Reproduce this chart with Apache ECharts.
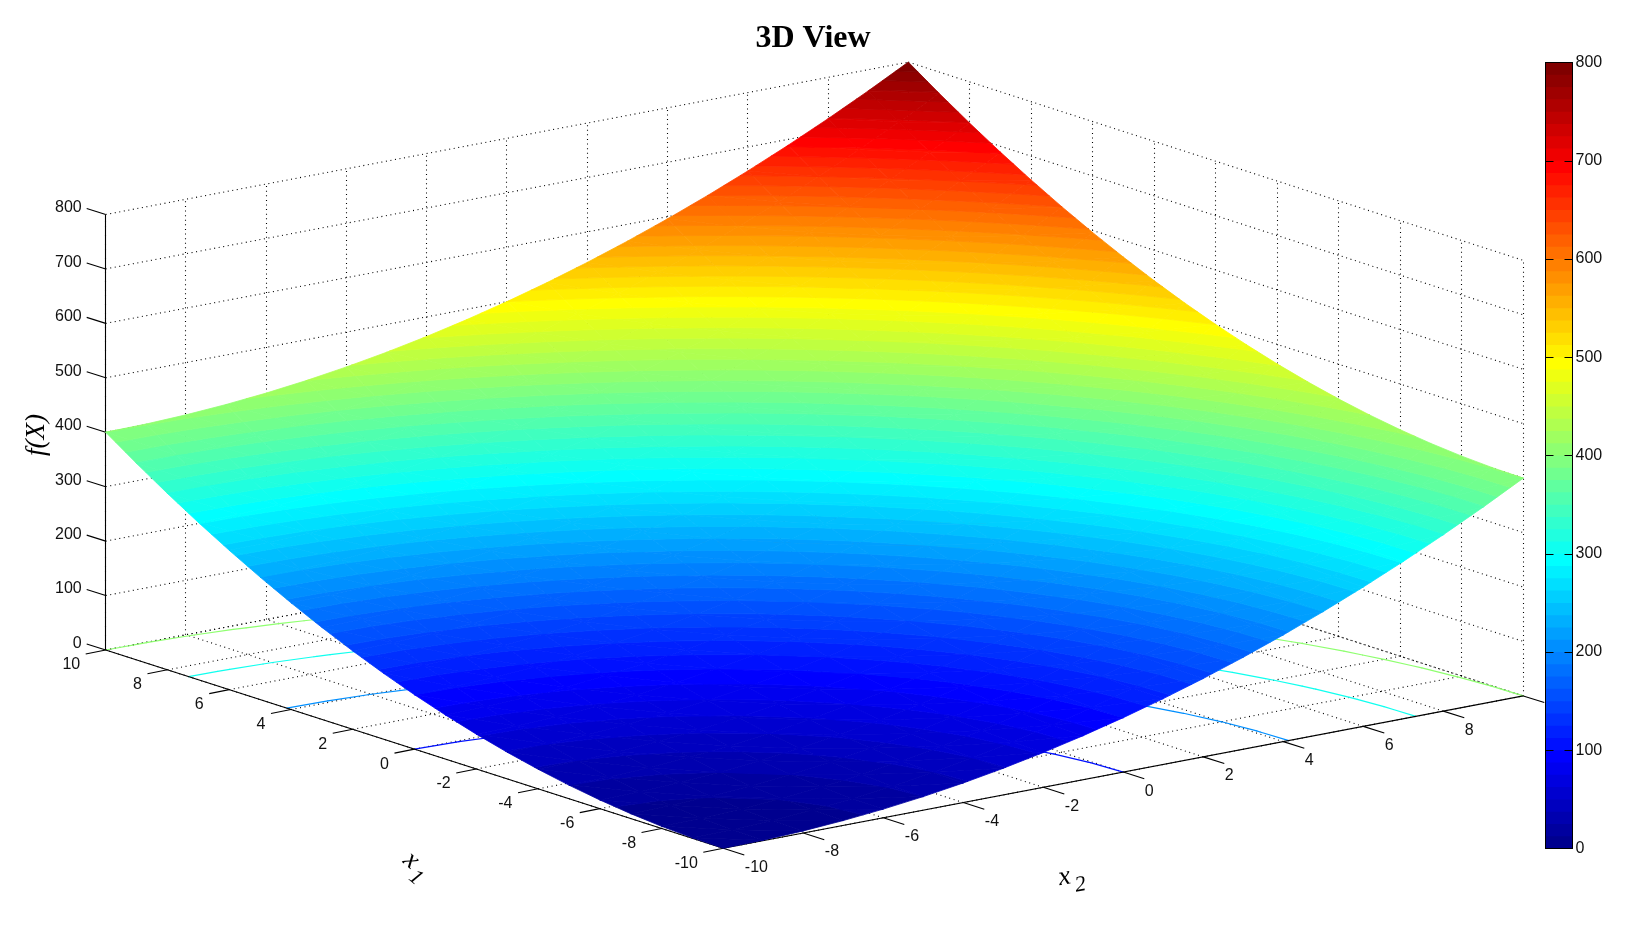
<!DOCTYPE html>
<html>
<head>
<meta charset="utf-8">
<style>html,body{margin:0;padding:0;background:#fff}#c{width:1632px;height:945px}</style>
<script src="https://cdn.jsdelivr.net/npm/echarts@6/dist/echarts.min.js"></script>
</head>
<body>
<div id="c"></div>
<script>
// ---- values ----
var x1Values = [-10,-9,-8,-7,-6,-5,-4,-3,-2,-1,0,1,2,3,4,5,6,7,8,9,10];
var x2Values = [-10,-9,-8,-7,-6,-5,-4,-3,-2,-1,0,1,2,3,4,5,6,7,8,9,10];
// surface height f(X): one row per x1, one column per x2
var fRows = [
[0,1,4,9,16,25,36,49,64,81,100,121,144,169,196,225,256,289,324,361,400],
[1,2,5,10,17,26,37,50,65,82,101,122,145,170,197,226,257,290,325,362,401],
[4,5,8,13,20,29,40,53,68,85,104,125,148,173,200,229,260,293,328,365,404],
[9,10,13,18,25,34,45,58,73,90,109,130,153,178,205,234,265,298,333,370,409],
[16,17,20,25,32,41,52,65,80,97,116,137,160,185,212,241,272,305,340,377,416],
[25,26,29,34,41,50,61,74,89,106,125,146,169,194,221,250,281,314,349,386,425],
[36,37,40,45,52,61,72,85,100,117,136,157,180,205,232,261,292,325,360,397,436],
[49,50,53,58,65,74,85,98,113,130,149,170,193,218,245,274,305,338,373,410,449],
[64,65,68,73,80,89,100,113,128,145,164,185,208,233,260,289,320,353,388,425,464],
[81,82,85,90,97,106,117,130,145,162,181,202,225,250,277,306,337,370,405,442,481],
[100,101,104,109,116,125,136,149,164,181,200,221,244,269,296,325,356,389,424,461,500],
[121,122,125,130,137,146,157,170,185,202,221,242,265,290,317,346,377,410,445,482,521],
[144,145,148,153,160,169,180,193,208,225,244,265,288,313,340,369,400,433,468,505,544],
[169,170,173,178,185,194,205,218,233,250,269,290,313,338,365,394,425,458,493,530,569],
[196,197,200,205,212,221,232,245,260,277,296,317,340,365,392,421,452,485,520,557,596],
[225,226,229,234,241,250,261,274,289,306,325,346,369,394,421,450,481,514,549,586,625],
[256,257,260,265,272,281,292,305,320,337,356,377,400,425,452,481,512,545,580,617,656],
[289,290,293,298,305,314,325,338,353,370,389,410,433,458,485,514,545,578,613,650,689],
[324,325,328,333,340,349,360,373,388,405,424,445,468,493,520,549,580,613,648,685,724],
[361,362,365,370,377,386,397,410,425,442,461,482,505,530,557,586,617,650,685,722,761],
[400,401,404,409,416,425,436,449,464,481,500,521,544,569,596,625,656,689,724,761,800]
];
var x1Ticks = [-10,-8,-6,-4,-2,0,2,4,6,8,10];
var x2Ticks = [-10,-8,-6,-4,-2,0,2,4,6,8,10];
var x2TickLabels = ['-10','-8','-6','-4','-2','0','2','4','6','8',''];
var zTicks = [0,100,200,300,400,500,600,700,800];
var contourLevels = [100,200,300,400,500,600,700];
var zMax = 800, nColors = 64;

// ---- view: projection of the box onto the page ----
var ORIGIN = [723.3, 848.3];            // x1=-10, x2=-10, z=0
var X1_SPAN = [-617.6, -198.3];         // x1 from -10 to 10
var X2_SPAN = [800, -152.4];            // x2 from -10 to 10
var Z_SPAN = [0, -435.5];               // z from 0 to 800
var FAR_SHIFT = 2.6;                    // slight sideways shift of the far corner
function project(x1, x2, z) {
  var a = (x1 + 10) / 20, b = (x2 + 10) / 20, c = z / zMax;
  return [ORIGIN[0] + a * X1_SPAN[0] + b * X2_SPAN[0] + c * Z_SPAN[0] + a * b * FAR_SHIFT,
          ORIGIN[1] + a * X1_SPAN[1] + b * X2_SPAN[1] + c * Z_SPAN[1]];
}
function clamp01(v) { return Math.max(0, Math.min(1, v)); }
function jet(i) {
  var t = (i + 1) / nColors;
  var r = clamp01(Math.min(4 * t - 1.5, -4 * t + 4.5));
  var g = clamp01(Math.min(4 * t - 0.5, -4 * t + 3.5));
  var b = clamp01(Math.min(4 * t + 0.5, -4 * t + 2.5));
  return 'rgb(' + Math.round(r * 255) + ',' + Math.round(g * 255) + ',' + Math.round(b * 255) + ')';
}
var bandSize = zMax / nColors;

// ---- cells ----
var cells = [];
for (var i = 0; i < x1Values.length - 1; i++)
  for (var j = 0; j < x2Values.length - 1; j++) {
    cells.push([i, j, 0]); cells.push([i, j, 1]);
  }
function triangleOf(c) {
  var i = c[0], j = c[1];
  function v(p, q) { return [x1Values[p], x2Values[q], fRows[p][q]]; }
  return c[2] === 0 ? [v(i, j), v(i + 1, j), v(i, j + 1)]
                    : [v(i + 1, j + 1), v(i, j + 1), v(i + 1, j)];
}
function clipZ(poly, level, keepAbove) {
  var out = [];
  for (var k = 0; k < poly.length; k++) {
    var a = poly[k], b = poly[(k + 1) % poly.length];
    var ina = keepAbove ? a[2] >= level : a[2] <= level;
    var inb = keepAbove ? b[2] >= level : b[2] <= level;
    if (ina) out.push(a);
    if (ina !== inb) {
      var s = (level - a[2]) / (b[2] - a[2]);
      out.push([a[0] + s * (b[0] - a[0]), a[1] + s * (b[1] - a[1]), level]);
    }
  }
  return out;
}
function surfaceItem(params, api) {
  var tri = triangleOf([api.value(0), api.value(1), api.value(2)]);
  var zs = tri.map(function (p) { return p[2]; });
  var lo = Math.floor(Math.min.apply(null, zs) / bandSize);
  var hi = Math.min(nColors - 1, Math.floor(Math.max.apply(null, zs) / bandSize));
  var children = [];
  for (var l = lo; l <= hi; l++) {
    var poly = clipZ(clipZ(tri, l * bandSize, true), (l + 1) * bandSize, false);
    if (poly.length < 3) continue;
    var col = jet(l);
    children.push({
      type: 'polygon',
      shape: { points: poly.map(function (p) { return api.coord(project(p[0], p[1], p[2])); }) },
      style: { fill: col, stroke: col, lineWidth: 0.8 }
    });
  }
  return { type: 'group', children: children };
}
function contourItem(params, api) {
  var tri = triangleOf([api.value(0), api.value(1), api.value(2)]);
  var children = [];
  contourLevels.forEach(function (L) {
    var pts = [];
    for (var k = 0; k < 3; k++) {
      var a = tri[k], b = tri[(k + 1) % 3];
      if ((a[2] < L) !== (b[2] < L)) {
        var s = (L - a[2]) / (b[2] - a[2]);
        pts.push(api.coord(project(a[0] + s * (b[0] - a[0]), a[1] + s * (b[1] - a[1]), 0)));
      }
    }
    if (pts.length === 2) children.push({
      type: 'line',
      shape: { x1: pts[0][0], y1: pts[0][1], x2: pts[1][0], y2: pts[1][1] },
      style: { stroke: jet(Math.floor(L / bandSize)), lineWidth: 1.2, lineCap: 'round' }
    });
  });
  return { type: 'group', children: children };
}

// ---- box: grid lines, axes, ticks, labels ----
var gridSegs = [];
x2Ticks.forEach(function (t) {
  gridSegs.push([10, t, 0, 10, t, zMax]);      // wall x1 = 10
  gridSegs.push([-10, t, 0, 10, t, 0]);        // floor
});
x1Ticks.forEach(function (t) {
  gridSegs.push([t, 10, 0, t, 10, zMax]);      // wall x2 = 10
  gridSegs.push([t, -10, 0, t, 10, 0]);        // floor
});
zTicks.forEach(function (t) {
  gridSegs.push([10, -10, t, 10, 10, t]);
  gridSegs.push([10, 10, t, -10, 10, t]);
});
function snapVertical(a, b) {
  if (Math.abs(a[0] - b[0]) < 0.01) { a[0] = b[0] = Math.floor(a[0]) + 0.5; }
}
function gridItem(params, api) {
  var a = api.coord(project(api.value(0), api.value(1), api.value(2)));
  var b = api.coord(project(api.value(3), api.value(4), api.value(5)));
  snapVertical(a, b);
  return { type: 'line', shape: { x1: a[0], y1: a[1], x2: b[0], y2: b[1] },
           style: { stroke: '#000', lineWidth: 1.1, lineDash: [1, 3.6] } };
}
var axisSegs = [
  [10, -10, 0, 10, -10, zMax],
  [-10, -10, 0, 10, -10, 0],
  [-10, -10, 0, -10, 10, 0]
];
function axisItem(params, api) {
  var a = api.coord(project(api.value(0), api.value(1), api.value(2)));
  var b = api.coord(project(api.value(3), api.value(4), api.value(5)));
  snapVertical(a, b);
  return { type: 'line', shape: { x1: a[0], y1: a[1], x2: b[0], y2: b[1] },
           style: { stroke: '#000', lineWidth: 1.1 } };
}
var TICK_Z = [-19, -6], TICK_X1 = [-20, 4], TICK_X2 = [21, 6.6];
var tickItems = [];
zTicks.forEach(function (t) { tickItems.push({ p: [10, -10, t], d: TICK_Z, text: String(t), off: [-24, -6.5], align: 'right' }); });
x1Ticks.forEach(function (t) { tickItems.push({ p: [t, -10, 0], d: TICK_X1, text: String(t), off: [-25.5, 15], align: 'right' }); });
x2Ticks.forEach(function (t, n) { tickItems.push({ p: [-10, t, 0], d: TICK_X2, text: x2TickLabels[n], off: [21.5, 19], align: 'left' }); });
function tickRender(params, api) {
  var it = tickItems[params.dataIndex];
  var o = api.coord(project(it.p[0], it.p[1], it.p[2]));
  var kids = [{
    type: 'line',
    shape: { x1: o[0], y1: o[1], x2: o[0] + it.d[0], y2: o[1] + it.d[1] },
    style: { stroke: '#000', lineWidth: 1.1 }
  }];
  if (it.text) kids.push({
    type: 'text',
    style: { text: it.text, x: o[0] + it.off[0], y: o[1] + it.off[1], align: it.align, verticalAlign: 'middle',
             font: '16px "Liberation Sans"', fill: '#111' }
  });
  return { type: 'group', children: kids };
}
var page = { type: 'value', min: 0, max: 1632, show: false, gridIndex: 0 };
var pageY = { type: 'value', min: 0, max: 945, inverse: true, show: false, gridIndex: 0 };
function custom(render, data, z) {
  return { type: 'custom', coordinateSystem: 'cartesian2d', xAxisIndex: 0, yAxisIndex: 0, renderItem: render,
           data: data, silent: true, animation: false, clip: false, progressive: 0, z: z };
}
var levels = [];
for (var n = 0; n < nColors; n++) levels.push(n);
var barAxisCommon = { axisLine: { show: true, onZero: false, lineStyle: { color: '#000', width: 1 } }, splitLine: { show: false }, z: 5 };
var subRich = {
  a: { font: 'italic 27px "Liberation Serif"', fill: '#000', verticalAlign: 'top' },
  b: { font: 'italic 22px "Liberation Serif"', fill: '#000', verticalAlign: 'bottom', lineHeight: 35, padding: [0, 0, 0, 3] }
};

var option = {
  backgroundColor: '#fff',
  animation: false,
  title: { text: '3D View', left: 808, top: 18, textAlign: 'center',
           textStyle: { fontFamily: '"Liberation Serif"', fontWeight: 'bold', fontSize: 32, color: '#000' } },
  grid: [
    { left: 0, top: 0, width: 1632, height: 945 },
    { left: 1545.5, top: 62.5, width: 27, height: 786 }
  ],
  xAxis: [
    page,
    Object.assign({ type: 'value', min: 0, max: 1, gridIndex: 1, position: 'bottom', axisTick: { show: false }, axisLabel: { show: false } }, barAxisCommon),
    Object.assign({ type: 'value', min: 0, max: 1, gridIndex: 1, position: 'top', axisTick: { show: false }, axisLabel: { show: false } }, barAxisCommon)
  ],
  yAxis: [
    pageY,
    Object.assign({ type: 'value', min: 0, max: zMax, interval: 100, gridIndex: 1, position: 'right',
      axisTick: { show: true, inside: true, length: 8, lineStyle: { color: '#000' } },
      axisLabel: { show: true, margin: 3, color: '#111', fontFamily: '"Liberation Sans"', fontSize: 16 } }, barAxisCommon),
    Object.assign({ type: 'value', min: 0, max: zMax, interval: 100, gridIndex: 1, position: 'left',
      axisTick: { show: true, inside: true, length: 8, lineStyle: { color: '#000' } },
      axisLabel: { show: false } }, barAxisCommon)
  ],
  series: [
    custom(gridItem, gridSegs, 2),
    custom(contourItem, cells, 3),
    custom(axisItem, axisSegs, 4),
    custom(tickRender, tickItems.map(function (t, k) { return [k]; }), 4),
    custom(surfaceItem, cells, 6),
    {
      type: 'custom', coordinateSystem: 'cartesian2d', xAxisIndex: 1, yAxisIndex: 1, silent: true, animation: false, progressive: 0, z: 2,
      data: levels.map(function (l) { return [l]; }),
      renderItem: function (params, api) {
        var l = api.value(0);
        var a = api.coord([0, zMax]), b = api.coord([1, l * bandSize]);
        return { type: 'rect', shape: { x: a[0], y: a[1], width: b[0] - a[0], height: b[1] - a[1] }, style: { fill: jet(l) } };
      }
    },
    custom(function (params, api) {
      var p = api.coord([37, 435]);
      return { type: 'text', x: p[0], y: p[1], rotation: Math.PI / 2,
               style: { text: 'f(X)', x: 0, y: 0, align: 'center', verticalAlign: 'middle',
                        font: 'italic 27px "Liberation Serif"', fill: '#000' } };
    }, [[0]], 7),
    custom(function (params, api) {
      var p = api.coord([414, 868]);
      return { type: 'text', x: p[0], y: p[1], rotation: -40 * Math.PI / 180,
               style: { text: '{a|x}{b|1}', x: 0, y: 0, align: 'center', verticalAlign: 'middle', rich: subRich } };
    }, [[0]], 7),
    custom(function (params, api) {
      var p = api.coord([1072, 880]);
      return { type: 'text', x: p[0], y: p[1], rotation: 10 * Math.PI / 180,
               style: { text: '{a|x}{b|2}', x: 0, y: 0, align: 'center', verticalAlign: 'middle', rich: subRich } };
    }, [[0]], 7)
  ]
};
var chart = echarts.init(document.getElementById('c'), null, { renderer: 'canvas' });
chart.setOption(option);
</script>
</body>
</html>
